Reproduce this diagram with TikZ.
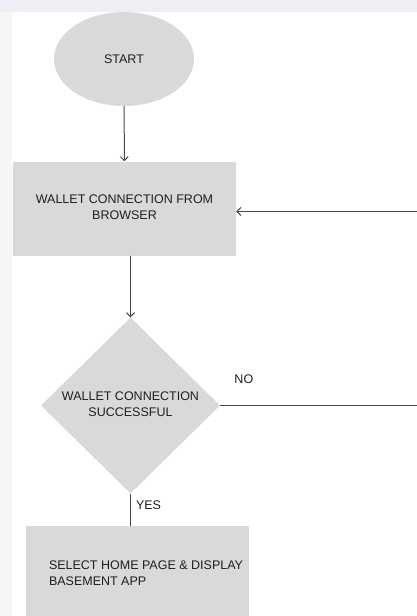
\documentclass[tikz,border=0pt]{standalone}
\usepackage{fontspec}
\setmainfont{Liberation Sans}
\usetikzlibrary{shapes.geometric,arrows.meta}
\definecolor{boxgray}{HTML}{D9D9D9}
\definecolor{linegray}{HTML}{484848}
\definecolor{textdark}{HTML}{1E1E1E}
\definecolor{topband}{HTML}{EEEEF4}
\definecolor{sideband}{HTML}{F7F6F4}
% two centred lines, set a little below the middle
\newcommand{\lowlines}[1]{\raisebox{-4.8pt}{\begin{tabular}{@{}c@{}}#1\end{tabular}}}

\begin{document}
\begin{tikzpicture}[x=1pt, y=-1pt, >={Straight Barb[length=4pt,width=8pt]},
    every node/.style={font=\fontsize{12.5}{16}\selectfont, text=textdark},
    startnode/.style={ellipse, fill=boxgray, inner sep=0pt, minimum width=140pt, minimum height=94pt},
    procbox/.style={rectangle, fill=boxgray, inner sep=0pt, minimum width=223pt, minimum height=94pt},
    decbox/.style={diamond, fill=boxgray, inner sep=0pt, minimum width=179pt, minimum height=176pt},
    flowline/.style={draw=linegray, line width=1pt},
    flowtag/.style={inner sep=2pt}]
    \useasboundingbox (0,0) rectangle (417,616);
    % faint screenshot background
    \fill[topband] (0,0) rectangle (417,12);
    \fill[sideband] (0,12) rectangle (12,616);

    \node[startnode] (start) at (124,59) {START};
    \node[procbox] (wallet) at (124.5,208.5) {\lowlines{WALLET CONNECTION FROM\\BROWSER}};
    \node[decbox] (check) at (130.5,405.5) {\lowlines{WALLET CONNECTION\\SUCCESSFUL}};
    \node[procbox, label={[anchor=west, inner sep=0pt, align=left, xshift=23pt]west:{SELECT HOME PAGE \& DISPLAY\\BASEMENT APP}}] (home) at (137.5,573) {};

    \draw[flowline, ->] (start) -- (wallet);
    \draw[flowline, ->] (check.north |- wallet.south) -- (check.north);
    \draw[flowline] (check.south) -- (check.south |- home.north)
        node[flowtag, pos=0.36, anchor=west, xshift=3pt] {YES};
    \draw[flowline, ->] (check.east) -- ++(215,0)
        node[flowtag, pos=0.11, above=19pt] {NO}
        |- ([yshift=-3pt]wallet.east);
\end{tikzpicture}
\end{document}
